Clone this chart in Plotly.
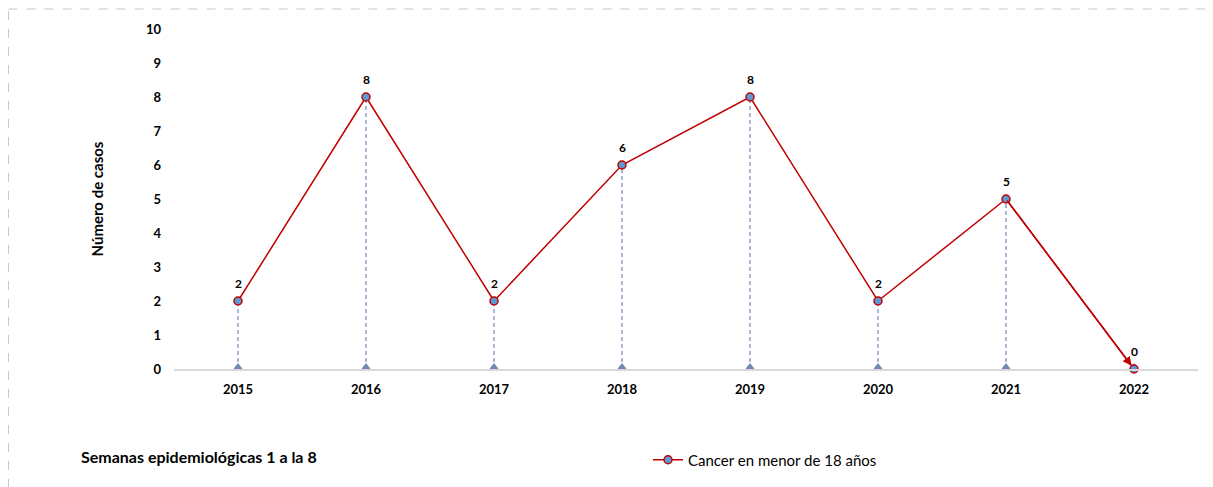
import plotly.graph_objects as go

years = ["2015", "2016", "2017", "2018", "2019", "2020", "2021", "2022"]
cases = [2, 8, 2, 6, 8, 2, 5, 0]
series_name = "Cancer en menor de 18 años"
y_title = "Número de casos"
footnote = "Semanas epidemiológicas 1 a la 8"

# page body adds an 8px offset, so work in screen pixels and shift back
OFF = 8
W, H = 1213, 487
ML, MT = 174 - OFF, 29 - OFF
MR = W - (1198 - OFF)
MB = H - (369 - OFF)
PW = W - ML - MR
PH = H - MT - MB


def px_x(p):
    return (p - OFF - ML) / PW


def px_y(p):
    return (H - MB - (p - OFF)) / PH


FONT = "Lato"
RED = "#C00000"
BLUE = "#5B9BD5"
DROP = "#7389B4"

fig = go.Figure()

# drop lines from each point down to the axis
drop_x, drop_y = [], []
for yr, v in zip(years, cases):
    drop_x += [yr, yr, None]
    drop_y += [0, v, None]
fig.add_trace(go.Scatter(
    x=drop_x, y=drop_y, mode="lines",
    line=dict(color=DROP, width=1.2, dash="4px,3px"),
    showlegend=False, hoverinfo="skip",
))

# little triangles at the base of the drop lines
fig.add_trace(go.Scatter(
    x=years, y=[0] * len(years), mode="markers",
    marker=dict(symbol="triangle-up", size=12, color=DROP),
    cliponaxis=True, showlegend=False, hoverinfo="skip",
))

fig.add_trace(go.Scatter(
    x=years, y=cases, mode="lines+markers",
    name=series_name,
    line=dict(color=RED, width=1.5),
    marker=dict(size=8, color=BLUE, line=dict(color=RED, width=1.5)),
    cliponaxis=False,
))

# data labels (category axis: position by index)
for i, v in enumerate(cases):
    fig.add_annotation(
        x=i, y=v, text=f"<b>{v}</b>", showarrow=False,
        yshift=18, font=dict(family=FONT, size=12, color="#000000"),
    )

# arrow head on the last segment
n = len(cases)
fig.add_annotation(
    x=n - 1, y=cases[-1], ax=n - 2, ay=cases[-2],
    xref="x", yref="y", axref="x", ayref="y",
    showarrow=True, arrowhead=2, arrowsize=1.2, arrowwidth=1.5,
    arrowcolor=RED, standoff=4, text="",
)

fig.add_annotation(
    text=f"<b>{footnote}</b>", xref="paper", yref="paper",
    x=px_x(79), y=px_y(456), xanchor="left", yanchor="middle",
    showarrow=False, font=dict(family=FONT, size=16, color="#000000"),
)

# dashed frame around the chart
fig.add_shape(
    type="rect", xref="paper", yref="paper",
    x0=px_x(8.5), x1=px_x(1240), y0=px_y(9), y1=px_y(520),
    line=dict(color="#C8C8C8", width=1, dash="dash"),
)

fig.update_xaxes(
    type="category", range=[-0.5, len(years) - 0.5],
    showline=True, linecolor="#D9D9D9", linewidth=1.5,
    showgrid=False, ticks="",
    tickfont=dict(family=FONT, size=13, color="#000000"),
    tickprefix="<b>", ticksuffix="</b>", ticklabelstandoff=8,
)
fig.update_yaxes(
    range=[0, 10], dtick=1, showgrid=False, zeroline=False, showline=False,
    tickfont=dict(family=FONT, size=13, color="#000000"),
    tickprefix="<b>", ticksuffix="</b>", ticklabelstandoff=12,
    title=dict(text=f"<b>{y_title}</b>", font=dict(family=FONT, size=15, color="#000000"), standoff=38),
)

fig.update_layout(
    width=W, height=H,
    margin=dict(l=ML, r=MR, t=MT, b=MB),
    plot_bgcolor="white", paper_bgcolor="white",
    showlegend=True,
    legend=dict(
        x=px_x(648), y=px_y(460), xanchor="left", yanchor="middle",
        orientation="h", font=dict(family=FONT, size=15, color="#000000"),
        bgcolor="rgba(0,0,0,0)", itemwidth=30,
    ),
)

fig.write_html("out.html")
